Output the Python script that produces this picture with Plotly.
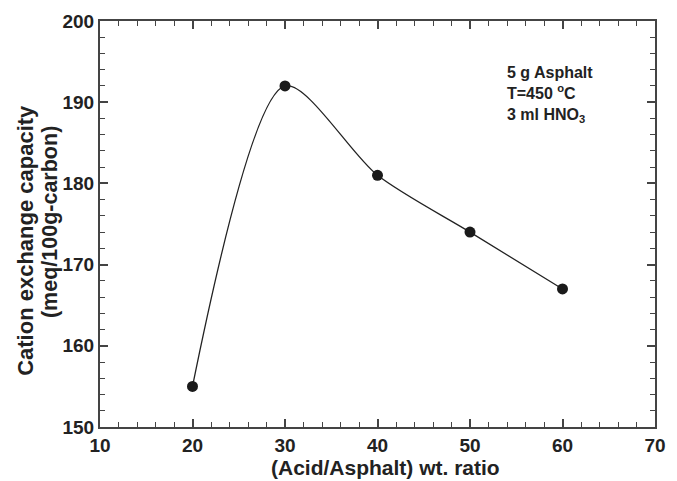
import plotly.graph_objects as go

ratio = [20, 30, 40, 50, 60]
cec = [155, 192, 181, 174, 167]

x_title = "(Acid/Asphalt) wt. ratio"
y_title_1 = "Cation exchange capacity"
y_title_2 = "(meq/100g-carbon)"
note_lines = ["5 g Asphalt", "T=450 <sup>o</sup>C", "3 ml HNO<sub>3</sub>"]

font_family = "Liberation Sans, Arial, sans-serif"
axis_color = "#444444"
text_color = "#222222"

fig = go.Figure()
fig.add_trace(go.Scatter(
    x=ratio, y=cec, mode="lines+markers",
    line=dict(shape="spline", smoothing=0.8, color="#222222", width=1.3),
    marker=dict(size=11, color="#1a1a1a"),
    showlegend=False,
))

common = dict(
    showgrid=False, zeroline=False, showline=True, linecolor=axis_color, linewidth=2,
    mirror="ticks", ticks="inside", ticklen=8, tickwidth=1.5, tickcolor=axis_color,
    tickfont=dict(family=font_family, size=19, color=text_color),
    tickprefix="<b>", ticksuffix="</b>",
)

fig.update_xaxes(
    range=[10, 70], dtick=10, tick0=10,
    minor=dict(dtick=2, ticks="inside", ticklen=5, tickwidth=1.2, tickcolor=axis_color),
    **common,
)
fig.update_yaxes(
    range=[150, 200], dtick=10, tick0=150,
    minor=dict(dtick=2, ticks="inside", ticklen=5, tickwidth=1.2, tickcolor=axis_color),
    **common,
)

# axis titles
fig.add_annotation(
    xref="paper", yref="paper", x=0.514, y=-0.1007, xanchor="center", yanchor="middle",
    text=f"<b>{x_title}</b>", showarrow=False,
    font=dict(family=font_family, size=21, color=text_color),
)
fig.add_annotation(
    xref="paper", yref="paper", x=-0.134, y=0.46, xanchor="center", yanchor="middle",
    text=f"<b>{y_title_1}</b>", showarrow=False, textangle=-90,
    font=dict(family=font_family, size=22, color=text_color),
)
fig.add_annotation(
    xref="paper", yref="paper", x=-0.091, y=0.506, xanchor="center", yanchor="middle",
    text=f"<b>{y_title_2}</b>", showarrow=False, textangle=-90,
    font=dict(family=font_family, size=21.5, color=text_color),
)

fig.add_annotation(
    xref="paper", yref="paper", x=0.73, y=0.9, xanchor="left", yanchor="top",
    text="<b>" + "<br>".join(note_lines) + "</b>",
    showarrow=False, align="left",
    font=dict(family=font_family, size=16, color=text_color),
)

fig.update_layout(
    width=677, height=481,
    margin=dict(l=100, r=11, t=20, b=54),
    paper_bgcolor="white", plot_bgcolor="white",
)

fig.write_html("out.html")
